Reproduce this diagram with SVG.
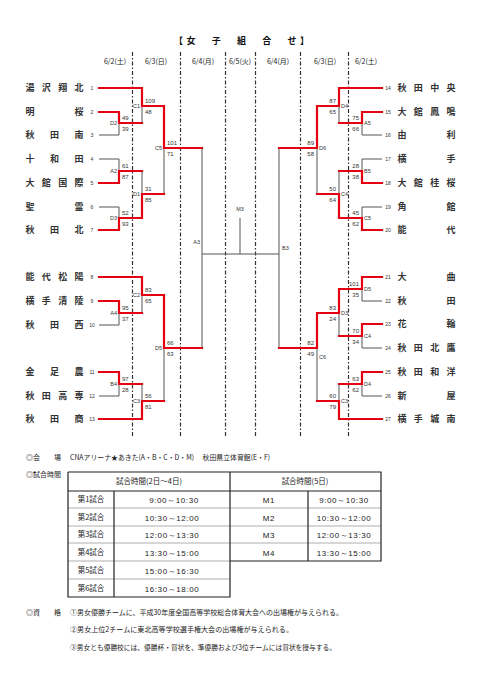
<svg xmlns="http://www.w3.org/2000/svg" width="481" height="680" viewBox="0 0 481 680">
<style>
.r{fill:none;stroke:#e50012;stroke-width:2.2;stroke-linejoin:miter;stroke-linecap:square}
.g{fill:none;stroke:#555;stroke-width:1}
.dl{stroke:#333;stroke-width:1.2;stroke-dasharray:4 2 1.5 2}
.nm{font-family:"Noto Sans CJK JP",sans-serif;font-size:9px;font-weight:bold;fill:#333;text-anchor:middle}
.no{font-family:"Liberation Sans",sans-serif;font-size:5px;fill:#333;text-anchor:middle}
.sc{font-family:"Liberation Sans",sans-serif;font-size:6px;fill:#333}
.cd{font-family:"Liberation Sans",sans-serif;font-size:5.5px;fill:#333}
.e{text-anchor:end}
.hd{font-family:"Noto Sans CJK JP",sans-serif;font-size:7px;fill:#222;text-anchor:middle}
.tx{font-family:"Noto Sans CJK JP",sans-serif;font-size:7px;fill:#222}
.tt{font-family:"Noto Sans CJK JP",sans-serif;font-size:7.5px;fill:#222;text-anchor:middle}
.tm{font-family:"Liberation Sans",sans-serif;font-size:8px;fill:#222;text-anchor:middle;letter-spacing:0.6px}
.tb{stroke:#222;stroke-width:1.2;fill:none}
.tl{stroke:#999;stroke-width:0.8;fill:none}
</style>
<rect width="481" height="680" fill="#fff"/>
<text x="174" y="44" font-family="Noto Sans CJK JP,sans-serif" font-size="9" font-weight="bold" letter-spacing="3.6" fill="#111">【女　子　組　合　せ】</text>
<g id="dates">
<text class="hd" x="115" y="64">6/2(土)</text>
<text class="hd" x="156" y="64">6/3(日)</text>
<text class="hd" x="203" y="64">6/4(月)</text>
<text class="hd" x="240" y="64">6/5(火)</text>
<text class="hd" x="278" y="64">6/4(月)</text>
<text class="hd" x="325" y="64">6/3(日)</text>
<text class="hd" x="366" y="64">6/2(土)</text>
</g>
<g id="day-lines">
<line class="dl" x1="132.5" y1="52" x2="132.5" y2="437"/>
<line class="dl" x1="180.5" y1="52" x2="180.5" y2="437"/>
<line class="dl" x1="225.5" y1="52" x2="225.5" y2="437"/>
<line class="dl" x1="255.5" y1="52" x2="255.5" y2="437"/>
<line class="dl" x1="300.5" y1="52" x2="300.5" y2="437"/>
<line class="dl" x1="348.5" y1="52" x2="348.5" y2="437"/>
</g>
<g id="connectors">
<path class="g" d="M99,135H119V123 M142,106V123 M99,159H119V171 M99,207H119V218 M142,171V194 M164,148V194 M99,325H119V313 M142,295V313 M164,348V401 M99,396H119V384 M142,384V401 M202,148V348 M202,254H279 M240,218V254 M279,148V348 M382,135H362V123 M339,106V123 M382,159H362V171 M382,207H362V218 M339,171V194 M317,148V194 M382,301H362V289 M382,348H362V336 M339,313V336 M382,396H362V384 M339,384V401 M317,348V401"/>
<path class="r" d="M99,112H119V123H142 M99,88H142V106H164 M99,183H119V171H142 M99,230H119V218H142 M142,218V194H164 M164,106V148H202 M99,277H142V295H164 M99,301H119V313H142 M164,295V348H202 M99,372H119V384H142 M99,419H142V401H164"/>
<path class="r" d="M382,112H362V123H339 M382,88H339V106H317 M382,183H362V171H339 M382,230H362V218H339 M339,218V194H317 M317,106V148H279 M382,277H362V289H339 M382,324H362V336H339 M339,289V313H317 M382,372H362V384H339 M382,419H339V401H317 M317,313V348H279"/>
</g>
<g id="match-labels">
<text class="sc" x="122" y="120">49</text><text class="sc" x="122" y="131">39</text><text class="cd e" x="117" y="125">D2</text>
<text class="sc" x="145" y="103">109</text><text class="sc" x="145" y="114">48</text><text class="cd e" x="140" y="108">C1</text>
<text class="sc" x="122" y="168">61</text><text class="sc" x="122" y="179">87</text><text class="cd e" x="117" y="173">A2</text>
<text class="sc" x="122" y="215">52</text><text class="sc" x="122" y="226">93</text><text class="cd e" x="117" y="220">D3</text>
<text class="sc" x="145" y="191">31</text><text class="sc" x="145" y="202">85</text><text class="cd e" x="140" y="196">D1</text>
<text class="sc" x="167" y="145">101</text><text class="sc" x="167" y="156">71</text><text class="cd e" x="162" y="150">C5</text>
<text class="sc" x="145" y="292">83</text><text class="sc" x="145" y="303">65</text><text class="cd e" x="140" y="297">C2</text>
<text class="sc" x="122" y="310">95</text><text class="sc" x="122" y="321">37</text><text class="cd e" x="117" y="315">A4</text>
<text class="sc" x="167" y="345">66</text><text class="sc" x="167" y="356">63</text><text class="cd e" x="162" y="350">D5</text>
<text class="sc" x="122" y="381">97</text><text class="sc" x="122" y="392">28</text><text class="cd e" x="117" y="386">B4</text>
<text class="sc" x="145" y="398">56</text><text class="sc" x="145" y="409">81</text><text class="cd e" x="140" y="403">C3</text>
<text class="cd e" x="200" y="244">A3</text>
<text class="cd" x="282" y="250">B3</text>
<text class="cd" x="240" y="211" text-anchor="middle">M3</text>
<text class="sc e" x="336" y="103">87</text><text class="sc e" x="336" y="114">65</text><text class="cd" x="341" y="108">D4</text>
<text class="sc e" x="359" y="120">75</text><text class="sc e" x="359" y="131">66</text><text class="cd" x="364" y="125">A5</text>
<text class="sc e" x="314" y="145">89</text><text class="sc e" x="314" y="156">58</text><text class="cd" x="319" y="150">D6</text>
<text class="sc e" x="359" y="168">28</text><text class="sc e" x="359" y="179">38</text><text class="cd" x="364" y="173">B5</text>
<text class="sc e" x="336" y="191">50</text><text class="sc e" x="336" y="202">64</text><text class="cd" x="341" y="196">C4</text>
<text class="sc e" x="359" y="215">45</text><text class="sc e" x="359" y="226">62</text><text class="cd" x="364" y="220">C5</text>
<text class="sc e" x="359" y="286">101</text><text class="sc e" x="359" y="297">35</text><text class="cd" x="364" y="291">D5</text>
<text class="sc e" x="336" y="310">83</text><text class="sc e" x="336" y="321">24</text><text class="cd" x="341" y="315">D3</text>
<text class="sc e" x="359" y="333">70</text><text class="sc e" x="359" y="344">34</text><text class="cd" x="364" y="338">C4</text>
<text class="sc e" x="314" y="345">82</text><text class="sc e" x="314" y="356">49</text><text class="cd" x="319" y="359">C6</text>
<text class="sc e" x="359" y="381">63</text><text class="sc e" x="359" y="392">62</text><text class="cd" x="364" y="386">D4</text>
<text class="sc e" x="336" y="398">60</text><text class="sc e" x="336" y="409">79</text><text class="cd" x="341" y="403">C3</text>
</g>
<g id="team-1"><text class="nm" x="30 46.3 62.7 79" y="91">湯沢翔北</text><text class="no" x="92" y="90">1</text></g>
<g id="team-2"><text class="nm" x="30 79" y="115">明桜</text><text class="no" x="92" y="114">2</text></g>
<g id="team-3"><text class="nm" x="30 54.5 79" y="138">秋田南</text><text class="no" x="92" y="137">3</text></g>
<g id="team-4"><text class="nm" x="30 54.5 79" y="162">十和田</text><text class="no" x="92" y="161">4</text></g>
<g id="team-5"><text class="nm" x="30 46.3 62.7 79" y="186">大館国際</text><text class="no" x="92" y="185">5</text></g>
<g id="team-6"><text class="nm" x="30 79" y="210">聖霊</text><text class="no" x="92" y="209">6</text></g>
<g id="team-7"><text class="nm" x="30 54.5 79" y="233">秋田北</text><text class="no" x="92" y="232">7</text></g>
<g id="team-8"><text class="nm" x="30 46.3 62.7 79" y="280">能代松陽</text><text class="no" x="92" y="279">8</text></g>
<g id="team-9"><text class="nm" x="30 46.3 62.7 79" y="304">横手清陵</text><text class="no" x="92" y="303">9</text></g>
<g id="team-10"><text class="nm" x="30 54.5 79" y="328">秋田西</text><text class="no" x="92" y="327">10</text></g>
<g id="team-11"><text class="nm" x="30 54.5 79" y="375">金足農</text><text class="no" x="92" y="374">11</text></g>
<g id="team-12"><text class="nm" x="30 46.3 62.7 79" y="399">秋田高専</text><text class="no" x="92" y="398">12</text></g>
<g id="team-13"><text class="nm" x="30 54.5 79" y="422">秋田商</text><text class="no" x="92" y="421">13</text></g>
<g id="team-14"><text class="nm" x="402 418.3 434.7 451" y="91">秋田中央</text><text class="no" x="388" y="90">14</text></g>
<g id="team-15"><text class="nm" x="402 418.3 434.7 451" y="115">大館鳳鳴</text><text class="no" x="388" y="114">15</text></g>
<g id="team-16"><text class="nm" x="402 451" y="138">由利</text><text class="no" x="388" y="137">16</text></g>
<g id="team-17"><text class="nm" x="402 451" y="162">横手</text><text class="no" x="388" y="161">17</text></g>
<g id="team-18"><text class="nm" x="402 418.3 434.7 451" y="186">大館桂桜</text><text class="no" x="388" y="185">18</text></g>
<g id="team-19"><text class="nm" x="402 451" y="210">角館</text><text class="no" x="388" y="209">19</text></g>
<g id="team-20"><text class="nm" x="402 451" y="233">能代</text><text class="no" x="388" y="232">20</text></g>
<g id="team-21"><text class="nm" x="402 451" y="280">大曲</text><text class="no" x="388" y="279">21</text></g>
<g id="team-22"><text class="nm" x="402 451" y="304">秋田</text><text class="no" x="388" y="303">22</text></g>
<g id="team-23"><text class="nm" x="402 451" y="327">花輪</text><text class="no" x="388" y="326">23</text></g>
<g id="team-24"><text class="nm" x="402 418.3 434.7 451" y="351">秋田北鷹</text><text class="no" x="388" y="350">24</text></g>
<g id="team-25"><text class="nm" x="402 418.3 434.7 451" y="375">秋田和洋</text><text class="no" x="388" y="374">25</text></g>
<g id="team-26"><text class="nm" x="402 451" y="399">新屋</text><text class="no" x="388" y="398">26</text></g>
<g id="team-27"><text class="nm" x="402 418.3 434.7 451" y="422">横手城南</text><text class="no" x="388" y="421">27</text></g>
<g id="venue">
<text class="tx" x="26" y="460">◎会　　場</text>
<text class="tx" x="70" y="460" textLength="200" lengthAdjust="spacingAndGlyphs">CNAアリーナ★あきた(A・B・C・D・M)　 秋田県立体育館(E・F)</text>
</g>
<g id="schedule">
<text class="tx" x="26" y="477">◎試合時間</text>
<path class="tl" d="M68,508H381 M68,526H381 M68,543H381 M68,561H230 M68,579H230"/>
<path class="tb" d="M68,472H381V561H230 M68,472V597H230V472 M68,491H381 M114,491V597 M308,491V561"/>
<text class="tt" x="149" y="484">試合時間(2日～4日)</text>
<text class="tt" x="305" y="484">試合時間(5日)</text>
<text class="tt" x="91" y="502">第1試合</text><text class="tm" x="174" y="502.5">9:00～10:30</text><text class="tm" x="269" y="502.5">M1</text><text class="tm" x="344" y="502.5">9:00～10:30</text>
<text class="tt" x="91" y="520">第2試合</text><text class="tm" x="172" y="520.5">10:30～12:00</text><text class="tm" x="269" y="520.5">M2</text><text class="tm" x="344" y="520.5">10:30～12:00</text>
<text class="tt" x="91" y="537">第3試合</text><text class="tm" x="172" y="537.5">12:00～13:30</text><text class="tm" x="269" y="537.5">M3</text><text class="tm" x="344" y="537.5">12:00～13:30</text>
<text class="tt" x="91" y="555">第4試合</text><text class="tm" x="172" y="555.5">13:30～15:00</text><text class="tm" x="269" y="555.5">M4</text><text class="tm" x="344" y="555.5">13:30～15:00</text>
<text class="tt" x="91" y="573">第5試合</text><text class="tm" x="172" y="573.5">15:00～16:30</text>
<text class="tt" x="91" y="591">第6試合</text><text class="tm" x="172" y="591.5">16:30～18:00</text>
</g>
<g id="qualification">
<text class="tx" x="26" y="615">◎資　　格</text>
<text class="tx" x="70" y="615" textLength="273" lengthAdjust="spacingAndGlyphs">①男女優勝チームに、平成30年度全国高等学校総合体育大会への出場権が与えられる。</text>
<text class="tx" x="70" y="632" textLength="223" lengthAdjust="spacingAndGlyphs">②男女上位2チームに東北高等学校選手権大会の出場権が与えられる。</text>
<text class="tx" x="70" y="650" textLength="266" lengthAdjust="spacingAndGlyphs">③男女とも優勝校には、優勝杯・賞状を、準優勝および3位チームには賞状を授与する。</text>
</g>
</svg>
